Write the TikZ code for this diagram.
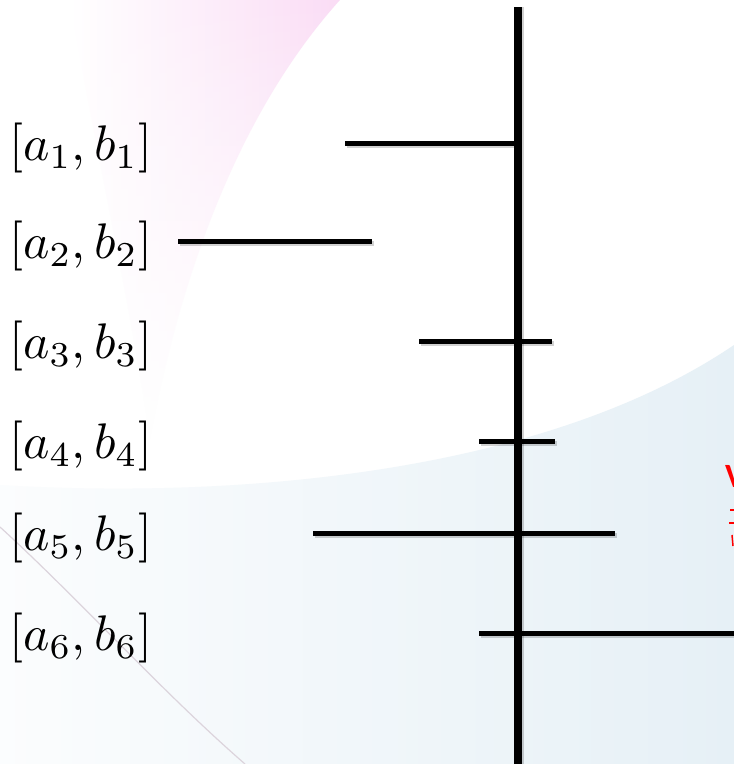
\documentclass[tikz,border=0pt]{standalone}
\usepackage{graphicx}
\usepackage{fontspec}
\newfontfamily\redfont{Carlito}
\usetikzlibrary{fadings}
\definecolor{pinkc}{RGB}{250,220,245}
\definecolor{bluec}{RGB}{230,240,246}
\definecolor{streak}{RGB}{220,212,220}
\newcommand{\biglab}[1]{\scalebox{5}{$#1$}}
\begin{document}
\begin{tikzpicture}[x=1pt,y=-1pt,
  bar/.style={line width=5pt, black},
  axisline/.style={line width=8pt, black},
  shadowbar/.style={line width=5pt, black, opacity=0.18},
  lab/.style={anchor=west, inner sep=0pt}]
\useasboundingbox (0,0) rectangle (734,764);
\clip (0,0) rectangle (734,764);
\fill[white] (0,0) rectangle (734,764);
% background decoration
\shade[left color=white, right color=pinkc, path fading=south]
  (70,0) .. controls (95,150) and (130,300) .. (150,440)
  .. controls (185,250) and (250,100) .. (340,0) -- cycle;
\shade[left color=bluec!15, right color=bluec]
  (0,485) .. controls (250,500) and (550,470) .. (734,345)
  -- (734,764) -- (0,764) -- cycle;
\draw[line width=1.2pt, streak] (0,527) .. controls (80,600) and (160,690) .. (245,764);
% axis
\coordinate (top) at (518,7);
\coordinate (bot) at (518,764);
% bar end points
\coordinate (l1) at (345,143); \coordinate (r1) at (518,143);
\coordinate (l2) at (178,241); \coordinate (r2) at (372,241);
\coordinate (l3) at (419,341); \coordinate (r3) at (552,341);
\coordinate (l4) at (479,441); \coordinate (r4) at (555,441);
\coordinate (l5) at (313,533); \coordinate (r5) at (615,533);
\coordinate (l6) at (479,633); \coordinate (r6) at (740,633);
% shadows
\foreach \i in {1,...,6} {
  \draw[shadowbar] ([shift={(1.5,2)}]l\i) -- ([shift={(1.5,2)}]r\i);
}
\draw[line width=8pt, black, opacity=0.18] ([shift={(1.5,0)}]top) -- ([shift={(1.5,0)}]bot);
% bars
\foreach \i in {1,...,6} {
  \draw[bar] (l\i) -- (r\i);
}
\draw[axisline] (top) -- (bot);
% labels
\node[lab] (t1) at (9,148) {\biglab{[a_1,b_1]}};
\node[lab] (t2) at (9,246) {\biglab{[a_2,b_2]}};
\node[lab] (t3) at (9,346) {\biglab{[a_3,b_3]}};
\node[lab] (t4) at (9,446) {\biglab{[a_4,b_4]}};
\node[lab] (t5) at (9,538) {\biglab{[a_5,b_5]}};
\node[lab] (t6) at (9,638) {\biglab{[a_6,b_6]}};
% red text cut off at the right edge, as in the reference
\node[anchor=west, inner sep=0pt, text=red, font=\redfont\bfseries\fontsize{34}{40}\selectfont] (v) at (725,476) {V};
\draw[red, line width=1.5pt] (730,510) -- (734,510);
\draw[red, line width=1.5pt] (729,523) -- (734,523);
\draw[red, line width=1.5pt] (732,535) -- (733,546);
\end{tikzpicture}
\end{document}
